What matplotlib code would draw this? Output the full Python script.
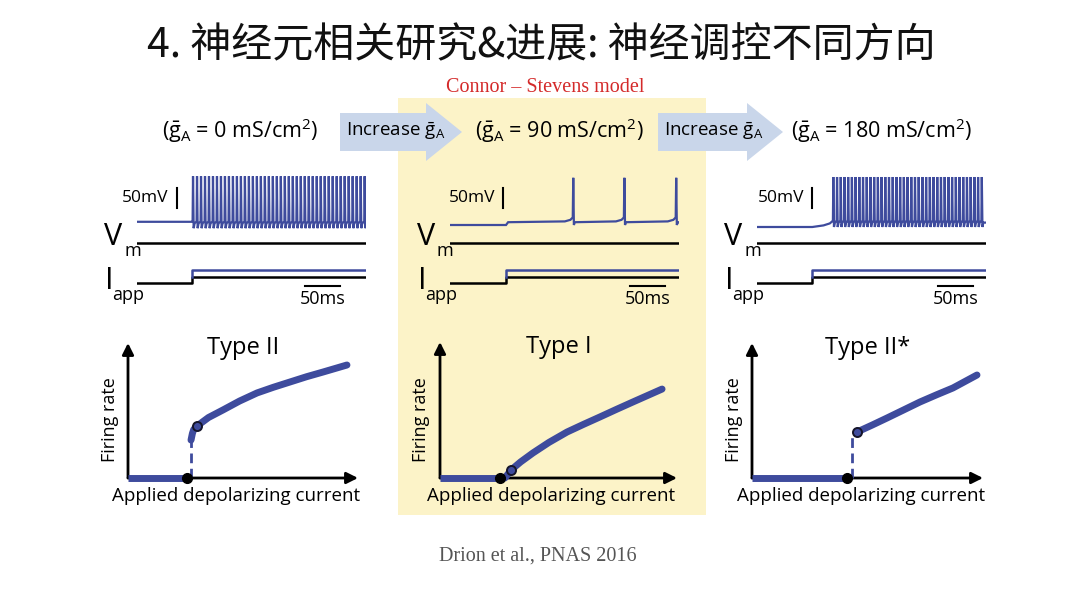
import numpy as np
import matplotlib
matplotlib.use("Agg")
import matplotlib.pyplot as plt
from matplotlib.patches import Rectangle, Polygon

plt.rcParams["font.family"] = ["Open Sans", "DejaVu Sans"]
plt.rcParams["mathtext.fontset"] = "custom"
plt.rcParams["mathtext.rm"] = "Open Sans"
plt.rcParams["mathtext.it"] = "Open Sans:italic"
plt.rcParams["mathtext.bf"] = "Open Sans:bold"

W, H = 1080, 602
BLUE, YELLOW, ARROW = "#3e4b9d", "#fcf3c8", "#c9d6ea"

# ---- data ----
title = "4. 神经元相关研究&进展: 神经调控不同方向"
model_name = "Connor – Stevens model"
citation = "Drion et al., PNAS 2016"
gA_values = [0, 90, 180]
type_names = ["Type II", "Type I", "Type II*"]

# voltage traces (ms, mV)
t_end = 327
t_step = [79, 80, 79]
rest_pre = [-62, -70, -75]
ramp_t = [[], [83], [95, 104, 108]]
ramp_v = [[], [-63], [-71, -66, -60]]
spike_start = [80, None, 109]
spike_period = [5.7, None, 5.3]
spike_list_mid = [176, 249, 323]
spike_peak = [52, 48, 50]
spike_trough = [-78, -70, -75]
spike_reset = [-66, -63, -64]
vm_ref = -115
mv_bar_t = [57, 76, 79]
ms_bar_start = [240, 257, 259]

# applied current (a.u.)
i_low, i_high, i_blue = 0.0, 1.0, 2.2

# f-I curves (normalised current, normalised rate)
fi_current = [[0.274, 0.280, 0.286, 0.300, 0.350, 0.413, 0.485, 0.561, 0.632, 0.704, 0.776, 0.848, 0.952],
              [0.274, 0.300, 0.340, 0.392, 0.460, 0.536, 0.605, 0.675, 0.745, 0.814, 0.937],
              [0.455, 0.520, 0.584, 0.655, 0.727, 0.800, 0.870, 0.974]]
fi_rate = [[0.281, 0.330, 0.360, 0.385, 0.448, 0.504, 0.570, 0.630, 0.672, 0.711, 0.750, 0.785, 0.837],
           [0.000, 0.059, 0.118, 0.184, 0.262, 0.338, 0.394, 0.449, 0.505, 0.559, 0.654],
           [0.341, 0.392, 0.444, 0.503, 0.563, 0.617, 0.667, 0.763]]
silent_end = [0.257, 0.253, 0.411]
jump_x = [0.274, None, 0.433]
jump_top = [0.281, None, 0.319]
onset_x = [0.300, 0.300, 0.455]
onset_y = [0.385, 0.059, 0.341]

# ---- layout (pixels) ----
trace_x0 = [137, 450, 757]
fi_boxes = [(128, 343, 358, 478), (440, 342, 677, 478), (752, 343, 983, 478)]
label_cx = [240, 559, 882]
arrow_spans = [(340, 462), (658, 783)]

fig = plt.figure(figsize=(W / 100, H / 100), dpi=100)
bg = fig.add_axes([0, 0, 1, 1])
bg.set_xlim(0, W); bg.set_ylim(H, 0); bg.axis("off")


def px_axes(l, t, r, b):
    a = fig.add_axes([l / W, 1 - b / H, (r - l) / W, (b - t) / H])
    a.set_facecolor("none"); a.axis("off")
    return a


def block_arrow(x0, x1, yc, body=19, head=29, hlen=36):
    xb = x1 - hlen
    pts = [(x0, yc - body), (xb, yc - body), (xb, yc - head), (x1, yc),
           (xb, yc + head), (xb, yc + body), (x0, yc + body)]
    bg.add_patch(Polygon(pts, closed=True, color=ARROW, lw=0, zorder=1))


def vm_trace(i):
    t = [0, t_step[i]]
    v = [rest_pre[i], rest_pre[i]]
    t += ramp_t[i]; v += ramp_v[i]
    if spike_start[i] is not None:
        times = list(np.arange(spike_start[i], t_end - 1, spike_period[i]))
    else:
        times = spike_list_mid
    last = t[-1]
    for tk in times:
        if tk - last > 20:
            t += [tk - 12, tk - 4, tk - 0.7]
            v += [spike_reset[i] + 2, spike_reset[i] + 6, spike_reset[i] + 12]
        else:
            t += [tk - 0.6]
            v += [spike_reset[i] + 5]
        t += [tk, tk + 0.9, tk + 2.2]
        v += [spike_peak[i], spike_trough[i], spike_reset[i]]
        last = tk + 2.2
    t += [t_end]; v += [spike_reset[i]]
    return t, v


bg.add_patch(Rectangle((398, 98), 308, 417, color=YELLOW, lw=0, zorder=0))

bg.text(541, 46, title, fontsize=29.5, ha="center", va="center",
        family=["Noto Sans CJK SC", "DejaVu Sans"], color="#111111")
bg.text(545, 87, model_name, fontsize=14.5, ha="center", va="center",
        family="Liberation Serif", color="#d42a2a")
bg.text(538, 556, citation, fontsize=14.5, ha="center", va="center",
        family="Liberation Serif", color="#555555")

for (x0, x1) in arrow_spans:
    block_arrow(x0, x1, 132)
    bg.text(x0 + 6, 131, r"Increase $\bar{\mathrm{g}}_{\mathrm{A}}$", fontsize=13.5,
            ha="left", va="center", zorder=2)

for i, g in enumerate(gA_values):
    bg.text(label_cx[i], 131, r"($\bar{\mathrm{g}}_{\mathrm{A}}$ = %d mS/cm$^{2}$)" % g,
            fontsize=15.5, ha="center", va="center")

# ---- voltage / current traces ----
for i, x0 in enumerate(trace_x0):
    av = px_axes(x0, 165, x0 + 229, 250)
    av.set_xlim(0, t_end); av.set_ylim(-132.5, 80)
    t, v = vm_trace(i)
    av.plot(t, v, color=BLUE, lw=1.6, solid_joinstyle="miter")
    av.plot([0, t_end], [vm_ref, vm_ref], color="black", lw=1.8)
    av.plot([mv_bar_t[i]] * 2, [-27, 23], color="black", lw=1.5)
    av.annotate("50mV", (mv_bar_t[i], -2), xytext=(-6, 0), textcoords="offset points",
                ha="right", va="center", fontsize=12.5)

    ai = px_axes(x0, 262, x0 + 229, 292)
    ai.set_xlim(0, t_end); ai.set_ylim(-1.5, 3.5)
    ai.plot([0, t_step[i], t_step[i], t_end], [i_low, i_low, i_high, i_high],
            color="black", lw=1.8)
    ai.plot([t_step[i], t_step[i], t_end], [i_high, i_blue, i_blue], color=BLUE, lw=1.8)
    ai.plot([ms_bar_start[i], ms_bar_start[i] + 50], [-0.5, -0.5], color="black", lw=1.5)
    ai.annotate("50ms", (ms_bar_start[i] + 25, -0.5), xytext=(0, -3),
                textcoords="offset points", ha="center", va="top", fontsize=13)

    lx = x0 - 33
    bg.text(lx, 245, "V", fontsize=22, va="baseline", ha="left")
    bg.text(lx + 20, 256, "m", fontsize=13, va="baseline", ha="left")
    bg.text(lx + 1, 289, "I", fontsize=22, va="baseline", ha="left")
    bg.text(lx + 8, 300, "app", fontsize=13, va="baseline", ha="left")

# ---- f-I curves ----
for i, (l, tp, r, b) in enumerate(fi_boxes):
    a = px_axes(l, tp, r, b)
    a.set_xlim(0, 1); a.set_ylim(0, 1)
    for end in [(1, 0), (0, 1)]:
        a.annotate("", xy=end, xytext=(0, 0), xycoords="axes fraction",
                   arrowprops=dict(arrowstyle="-|>", color="black", lw=2,
                                   mutation_scale=17, shrinkA=0, shrinkB=0))
    a.plot([0, silent_end[i]], [0, 0], color=BLUE, lw=5, solid_capstyle="butt",
           clip_on=False, zorder=3)
    if jump_x[i] is not None:
        a.plot([jump_x[i]] * 2, [0, jump_top[i]], color=BLUE, lw=2,
               ls=(0, (3.5, 2)), clip_on=False, zorder=3)
    a.plot(fi_current[i], fi_rate[i], color=BLUE, lw=5, solid_capstyle="round",
           clip_on=False, zorder=3)
    a.plot(silent_end[i], 0, "o", ms=7, color="black", clip_on=False, zorder=5)
    a.plot(onset_x[i], onset_y[i], "o", ms=6.5, mfc=BLUE, mec="#15152a", mew=1.4,
           clip_on=False, zorder=5)
    a.text(0.5, 0.96, type_names[i], transform=a.transAxes, fontsize=17,
           ha="center", va="center")
    a.text(-0.08, 0.43, "Firing rate", transform=a.transAxes, fontsize=13,
           rotation=90, ha="center", va="center")
    a.text(0.47, -0.13, "Applied depolarizing current", transform=a.transAxes,
           fontsize=13.5, ha="center", va="center")

fig.savefig("out.png", dpi=100)
